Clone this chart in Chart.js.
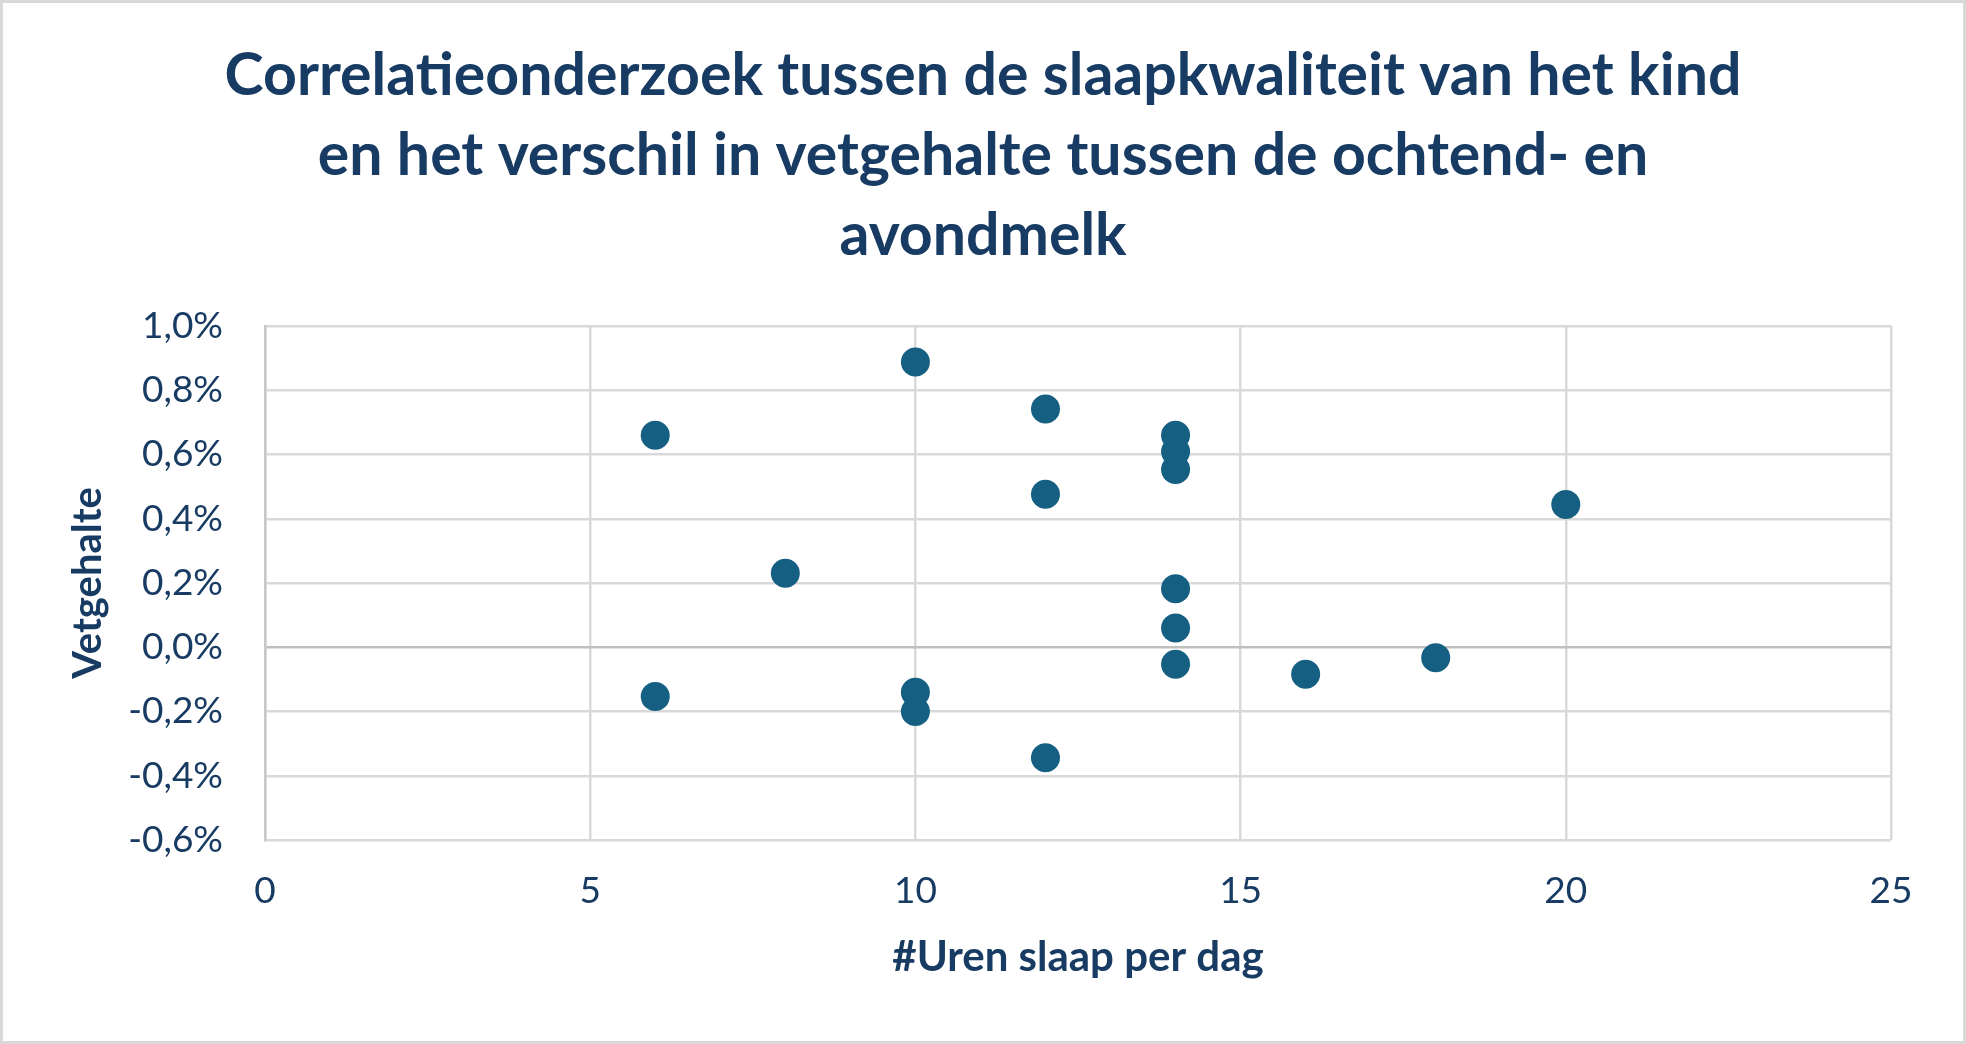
<!DOCTYPE html>
<html>
<head>
<meta charset="utf-8">
<script src="https://cdn.jsdelivr.net/npm/chart.js@4"></script>
<style>
  html, body { margin: 0; padding: 0; background: #ffffff; }
  canvas { display: block; }
</style>
</head>
<body>
<canvas id="c" width="1966" height="1044"></canvas>
<script>
// ---- data ----
const titleLines = [
  "Correlatieonderzoek tussen de slaapkwaliteit van het kind",
  "en het verschil in vetgehalte tussen de ochtend- en",
  "avondmelk"
];
const xAxisTitle = "#Uren slaap per dag";
const yAxisTitle = "Vetgehalte";
const hoursOfSleep = [6, 6, 8, 10, 10, 10, 12, 12, 12, 14, 14, 14, 14, 14, 14, 16, 18, 20];
const fatDiffPercent = [0.66, -0.153, 0.23, 0.888, -0.14, -0.2, 0.742, 0.476, -0.344, 0.66, 0.609, 0.553, 0.182, 0.06, -0.053, -0.084, -0.033, 0.444];
const xTickMin = 0, xTickMax = 25, xTickStep = 5;
const yTickMin = -0.6, yTickMax = 1.0, yTickStep = 0.2;

const points = hoursOfSleep.map((h, i) => ({ x: h, y: fatDiffPercent[i] }));

const TEXT = '#173B62';
const FONT = 'Lato, "Noto Sans", sans-serif';

const borderPlugin = {
  id: 'outerBorder',
  afterDraw(chart) {
    const ctx = chart.ctx;
    ctx.save();
    ctx.strokeStyle = '#D9D9D9';
    ctx.lineWidth = 3;
    ctx.strokeRect(1.5, 1.5, chart.width - 3, chart.height - 3);
    ctx.restore();
  }
};

new Chart(document.getElementById('c'), {
  type: 'scatter',
  data: {
    datasets: [{
      data: points,
      backgroundColor: '#156082',
      borderWidth: 0,
      pointRadius: 14.5,
      pointHoverRadius: 14.5
    }]
  },
  options: {
    responsive: false,
    animation: false,
    devicePixelRatio: 1,
    layout: { padding: { left: 0, right: 0, top: 0, bottom: 0 } },
    plugins: {
      legend: { display: false },
      tooltip: { enabled: false },
      title: {
        display: true,
        text: titleLines,
        color: TEXT,
        font: { family: FONT, size: 59, weight: 'bold', lineHeight: 80 / 59 },
        padding: { top: 36, bottom: 50 }
      }
    },
    scales: {
      x: {
        type: 'linear',
        min: xTickMin, max: xTickMax,
        ticks: { stepSize: xTickStep, color: TEXT, font: { family: FONT, size: 37 }, padding: 29 },
        grid: { color: '#D9D9D9', lineWidth: 2.5, drawTicks: false },
        border: { display: false },
        title: {
          display: true, text: xAxisTitle, color: TEXT,
          font: { family: FONT, size: 42, weight: 'bold', lineHeight: 1.2 },
          padding: { top: 4, bottom: 61 }
        },
        afterFit(scale) { scale.height = 204; }
      },
      y: {
        type: 'linear',
        min: yTickMin, max: yTickMax,
        ticks: {
          stepSize: yTickStep, color: TEXT, font: { family: FONT, size: 37 }, padding: 42,
          callback: (v) => (Math.abs(v) < 1e-9 ? 0 : v).toFixed(1).replace('.', ',') + '%'
        },
        grid: {
          color: (c) => (c.tick && Math.abs(c.tick.value) < 1e-9) ? '#BFBFBF' : '#D9D9D9',
          lineWidth: 2.5, drawTicks: false
        },
        border: { display: true, color: '#C8C8C8', width: 2.5 },
        title: {
          display: true, text: yAxisTitle, color: TEXT,
          font: { family: FONT, size: 40, weight: 'bold', lineHeight: 1.2 },
          padding: { top: 64, bottom: 0 }
        },
        afterFit(scale) { scale.width = 265; }
      },
      yRight: {
        type: 'linear',
        position: 'right',
        display: true,
        ticks: { display: false },
        grid: { display: false, drawTicks: false },
        border: { display: false },
        title: { display: false },
        afterFit(scale) { scale.width = 75; }
      }
    }
  },
  plugins: [borderPlugin]
});
</script>
</body>
</html>
